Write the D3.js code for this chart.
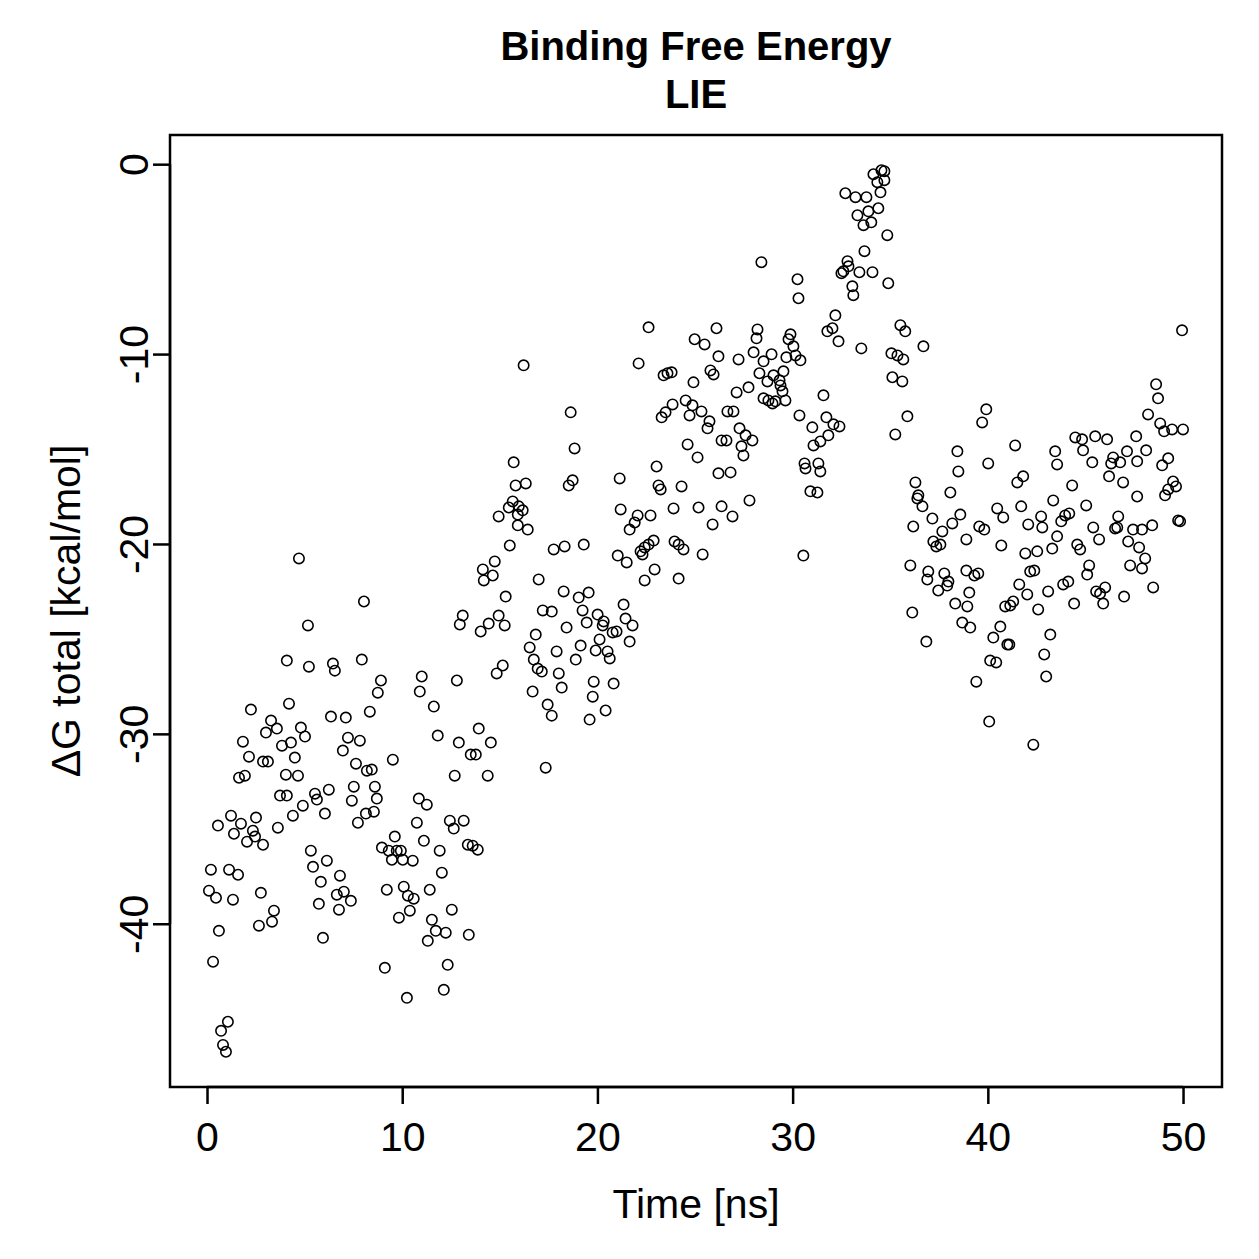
<!DOCTYPE html>
<html lang="en">
    <head>
        <meta charset="UTF-8" />
        <title>Binding Free Energy - LIE</title>
        <style>
            body {
                margin: 0;
                padding: 0;
                background-color: #ffffff;
            }
            svg text {
                font-family: 'Liberation Sans', Arial, Helvetica, sans-serif;
                fill: #000;
            }
        </style>
    </head>
    <body>
        <div id="chart"></div>
        <script src="https://d3js.org/d3.v7.min.js"></script>
        <script>
            const timeNs = [
                // 0 - 4.5 ns
                4.09, 4.20, 2.25, 3.28, 3.58, 3.02, 1.84, 3.84, 4.30, 2.15,
                2.87, 3.12, 4.50, 1.64, 1.94, 4.04, 3.74, 4.09, 1.23, 2.51,
                4.40, 0.56, 1.74, 1.38, 2.35, 2.05, 2.46, 2.87, 3.63, 0.20,
                1.13, 1.59, 0.10, 0.46, 1.33, 2.76, 3.43, 3.33, 2.66, 0.61,
                0.31, 1.07, 0.72, 0.82, 0.97, 4.66,
                // 4.5 - 9 ns
                4.71, 8.04, 5.17, 5.22, 6.45, 6.55, 7.93, 8.91, 8.75, 6.35,
                7.11, 8.34, 4.81, 5.02, 7.22, 7.83, 6.96, 7.63, 8.19, 8.44,
                6.24, 5.53, 5.63, 7.52, 8.60, 4.91, 6.04, 7.42, 8.70, 8.14,
                8.55, 7.73, 8.96, 5.32, 5.43, 6.14, 5.83, 6.81, 6.65, 7.01,
                7.37, 5.73, 6.76, 5.94,
                // 9 - 13 ns
                11.00, 10.90, 12.80, 11.62, 11.82, 12.90, 9.52, 12.69, 10.85, 11.26,
                10.75, 12.44, 12.64, 13.15, 9.62, 11.11, 9.31, 9.47, 9.72, 9.93,
                10.03, 10.54, 11.92, 12.03, 9.21, 10.08, 10.29, 10.59, 11.41, 10.39,
                9.83, 12.54, 11.52, 11.72, 12.23, 11.31, 9.11, 12.33, 12.13, 10.24,
                13.10, 12.95,
                // 13 - 18 ns
                16.22, 15.71, 15.81, 16.33, 15.66, 15.46, 14.94, 15.97, 16.17, 15.92,
                15.92, 16.43, 15.51, 17.76, 14.74, 14.13, 14.18, 14.64, 16.99, 15.30,
                17.20, 17.66, 14.94, 14.43, 14.02, 15.25, 15.15, 14.84, 16.84, 16.53,
                16.74, 16.94, 17.15, 16.68, 17.45, 17.66, 13.92, 14.54, 13.51, 13.77,
                14.38, 17.35, 13.36, 13.61, 13.87, 13.41,
                // 18 - 22 ns
                18.63, 18.83, 18.73, 18.53, 21.14, 21.19, 18.32, 19.30, 21.04, 21.50,
                18.27, 19.04, 19.55, 21.34, 19.24, 19.45, 20.01, 20.32, 20.27, 21.44,
                21.80, 18.42, 20.78, 20.98, 20.11, 21.65, 19.14, 17.91, 18.89, 19.91,
                20.52, 20.63, 18.02, 18.17, 19.81, 19.76, 20.83, 20.42, 19.60,
                // 22 - 26.5 ns
                22.62, 26.10, 24.98, 25.49, 26.20, 22.11, 23.39, 23.59, 23.80, 25.79,
                25.95, 24.92, 23.85, 24.52, 24.87, 24.72, 23.49, 23.29, 25.33, 25.74,
                25.64, 26.36, 24.62, 25.13, 23.03, 26.20, 23.13, 23.24, 24.31, 26.36,
                23.90, 25.18, 25.90, 22.72, 22.06, 21.91, 21.65, 22.88, 22.62, 22.42,
                22.21, 22.31, 23.95, 24.16, 24.41, 25.39, 22.93, 22.42, 24.16,
                // 26.5 - 31 ns
                28.40, 30.25, 30.30, 28.20, 28.15, 29.89, 29.79, 30.04, 27.23, 28.00,
                28.51, 28.92, 29.68, 30.15, 30.40, 28.30, 28.71, 29.02, 29.33, 29.53,
                29.38, 29.48, 27.74, 27.13, 28.51, 28.76, 28.97, 29.12, 29.63, 30.35,
                26.66, 26.97, 27.28, 26.61, 27.59, 27.94, 27.38, 27.48, 30.61, 30.66,
                26.82, 30.91, 27.79, 26.92, 30.55,
                // 31 - 35 ns
                34.14, 34.55, 34.70, 34.34, 34.70, 34.50, 32.70, 33.22, 33.78, 34.39,
                33.88, 33.32, 33.63, 34.03, 34.85, 33.68, 32.81, 32.86, 32.50, 32.60,
                33.42, 34.09, 33.06, 33.11, 34.90, 32.19, 32.04, 31.78, 32.35, 33.52,
                31.58, 31.73, 32.09, 32.40, 31.01, 31.83, 31.42, 31.07, 31.32, 31.42,
                31.27,
                // 35 - 39.5 ns
                35.52, 35.77, 36.70, 35.06, 35.37, 35.67, 35.11, 35.62, 35.88, 35.26,
                38.44, 38.49, 36.29, 36.44, 36.39, 36.65, 38.08, 37.16, 38.59, 36.18,
                38.18, 37.67, 39.56, 37.21, 37.57, 37.36, 38.90, 36.03, 36.95, 36.90,
                37.77, 38.90, 39.31, 37.98, 37.92, 37.46, 39.05, 38.33, 38.95, 36.13,
                38.69, 39.10, 36.85,
                // 39.5 - 44 ns
                39.92, 39.71, 41.40, 43.45, 43.55, 40.02, 41.51, 41.81, 43.35, 40.48,
                40.79, 41.71, 42.73, 42.79, 42.07, 43.76, 39.82, 43.55, 40.69, 41.92,
                42.53, 43.30, 39.51, 42.17, 42.38, 41.61, 42.02, 43.09, 40.89, 41.15,
                41.30, 42.58, 40.64, 40.28, 41.00, 41.10, 43.20, 42.89, 40.12, 40.43,
                42.99, 39.41, 40.07, 42.33,
                // 44 - 48.3 ns
                48.21, 44.48, 44.83, 45.50, 46.11, 47.60, 44.88, 45.35, 46.42, 46.32,
                46.78, 47.13, 47.65, 48.11, 46.21, 46.93, 44.32, 47.65, 45.04, 43.96,
                44.17, 46.68, 46.52, 46.63, 45.40, 45.70, 47.44, 47.90, 47.19, 47.75,
                44.58, 44.73, 48.06, 45.19, 45.09, 47.29, 47.90, 43.86, 44.12, 45.55,
                45.75, 46.01, 45.91, 44.42, 46.98,
                // 48.3 - 50 ns
                49.95, 48.62, 48.72, 48.83, 49.03, 49.44, 50.00, 49.24, 48.93, 49.49,
                49.24, 49.08, 49.64, 49.75, 49.85, 48.42, 48.47
            ];

            const deltaG = [
                // 0 - 4.5 ns
                -26.14, -28.41, -28.72, -29.30, -29.72, -29.93, -30.41, -30.62, -30.46, -31.20,
                -31.46, -31.46, -31.25, -32.31, -32.20, -32.15, -33.25, -33.25, -34.31, -34.41,
                -34.31, -34.83, -34.73, -35.26, -35.10, -35.68, -35.41, -35.84, -34.94, -37.15,
                -37.15, -37.42, -38.26, -38.63, -38.73, -38.37, -39.31, -39.89, -40.10, -40.37,
                -42.00, -45.16, -45.64, -46.38, -46.74, -32.20,
                // 4.5 - 9 ns
                -20.76, -23.03, -24.29, -26.46, -26.30, -26.67, -26.09, -27.19, -27.83, -29.09,
                -29.14, -28.83, -29.67, -30.14, -30.20, -30.36, -30.88, -31.57, -31.94, -31.88,
                -32.94, -33.15, -33.46, -32.78, -32.78, -33.78, -34.20, -33.52, -33.41, -34.20,
                -34.10, -34.68, -35.99, -36.15, -37.00, -36.68, -37.79, -37.47, -38.47, -38.31,
                -38.79, -38.95, -39.26, -40.74,
                // 9 - 13 ns
                -26.98, -27.77, -27.19, -28.56, -30.09, -30.46, -31.36, -32.20, -33.41, -33.73,
                -34.68, -34.57, -34.99, -34.57, -35.41, -35.63, -36.15, -36.63, -36.15, -36.15,
                -36.63, -36.68, -36.15, -37.31, -38.21, -38.05, -38.52, -38.68, -38.21, -39.31,
                -39.68, -39.26, -39.79, -40.37, -40.47, -40.90, -42.32, -42.16, -43.48, -43.90,
                -23.77, -24.24,
                // 13 - 18 ns
                -10.59, -15.70, -16.92, -16.81, -17.76, -18.08, -18.55, -18.02, -18.23, -18.45,
                -19.02, -19.24, -20.08, -20.29, -20.92, -21.34, -21.92, -21.66, -21.87, -22.77,
                -23.50, -23.56, -23.77, -24.19, -24.61, -24.29, -26.40, -26.82, -24.77, -25.45,
                -26.09, -26.56, -26.72, -27.77, -28.46, -29.04, -29.72, -30.46, -31.09, -31.09,
                -32.20, -31.78, -35.84, -35.89, -36.10, -40.58,
                // 18 - 22 ns
                -13.07, -14.97, -16.65, -16.92, -16.55, -18.18, -20.13, -20.03, -20.61, -20.97,
                -22.50, -22.82, -22.56, -23.19, -23.50, -24.14, -23.72, -24.08, -24.29, -23.93,
                -24.29, -24.40, -24.66, -24.61, -25.03, -25.14, -25.35, -25.66, -26.09, -25.61,
                -25.66, -26.03, -26.82, -27.56, -27.25, -28.04, -27.35, -28.77, -29.25,
                // 22 - 26.5 ns
                -8.59, -8.64, -9.22, -9.49, -10.12, -10.49, -11.12, -11.01, -10.96, -10.86,
                -11.07, -11.49, -12.65, -12.44, -12.70, -13.23, -13.07, -13.33, -13.02, -13.54,
                -13.91, -14.55, -14.76, -15.44, -15.92, -16.28, -16.92, -17.13, -16.97, -18.02,
                -18.13, -18.08, -18.97, -18.50, -18.50, -18.87, -19.24, -19.82, -20.03, -20.18,
                -20.39, -20.55, -19.87, -20.03, -20.29, -20.55, -21.34, -21.92, -21.82,
                // 26.5 - 31 ns
                -5.16, -6.06, -7.06, -8.70, -9.17, -8.96, -9.22, -9.59, -10.28, -9.91,
                -10.38, -10.01, -10.17, -10.07, -10.33, -11.01, -11.44, -11.12, -11.38, -10.91,
                -11.65, -11.96, -11.75, -12.02, -12.33, -12.44, -12.60, -12.49, -12.44, -13.23,
                -13.02, -13.02, -13.91, -14.55, -14.28, -14.55, -14.86, -15.34, -15.76, -16.02,
                -16.23, -17.23, -17.71, -18.55, -20.61,
                // 31 - 35 ns
                -0.53, -0.32, -0.37, -0.95, -0.84, -1.48, -1.53, -1.74, -1.74, -2.32,
                -2.48, -2.69, -3.21, -3.06, -3.74, -4.58, -5.11, -5.38, -5.74, -5.64,
                -5.69, -5.69, -6.43, -6.90, -6.27, -7.96, -8.64, -8.80, -9.33, -9.70,
                -12.17, -13.33, -13.70, -13.81, -13.86, -14.28, -14.60, -14.81, -15.76, -16.18,
                -17.29,
                // 35 - 39.5 ns
                -8.48, -8.80, -9.59, -9.96, -10.07, -10.28, -11.22, -11.44, -13.28, -14.23,
                -15.12, -16.18, -16.76, -17.44, -17.60, -18.02, -17.29, -18.66, -18.45, -19.08,
                -18.92, -19.34, -19.08, -19.87, -20.03, -20.13, -19.76, -21.13, -21.45, -21.87,
                -21.55, -21.40, -21.66, -21.98, -22.19, -22.45, -22.56, -23.14, -23.29, -23.61,
                -24.14, -24.40, -25.14,
                // 39.5 - 44 ns
                -12.91, -13.60, -14.81, -15.12, -15.81, -15.76, -16.76, -16.44, -17.71, -18.13,
                -18.60, -18.02, -18.55, -19.13, -18.97, -18.81, -19.24, -19.60, -20.08, -20.50,
                -20.39, -20.24, -21.55, -21.45, -21.40, -22.13, -22.66, -22.50, -23.29, -23.24,
                -23.03, -23.45, -24.35, -24.93, -25.30, -25.30, -24.77, -25.82, -26.14, -26.24,
                -26.98, -27.25, -29.35, -30.57,
                // 44 - 48.3 ns
                -13.18, -14.39, -14.49, -14.33, -14.49, -14.33, -15.07, -15.70, -15.44, -15.76,
                -15.70, -15.12, -15.65, -15.07, -16.44, -16.76, -16.92, -17.50, -17.97, -18.50,
                -18.39, -18.55, -19.18, -19.13, -19.13, -19.76, -19.24, -19.24, -19.87, -20.18,
                -20.03, -20.29, -20.76, -21.13, -21.61, -21.13, -21.29, -22.13, -21.98, -22.50,
                -22.61, -22.29, -23.14, -23.14, -22.77,
                // 48.3 - 50 ns
                -8.75, -11.59, -12.33, -13.65, -14.07, -13.97, -13.97, -15.49, -15.86, -16.71,
                -17.13, -17.44, -16.97, -18.76, -18.81, -19.02, -22.29
            ];

            const xTicks = [0, 10, 20, 30, 40, 50];
            const yTicks = [0, -10, -20, -30, -40];
            const titleLines = ['Binding Free Energy', 'LIE'];

            const width = 1259;
            const height = 1259;
            const box = { left: 170, right: 1222, top: 135, bottom: 1087 };

            const data = timeNs.map((t, i) => ({ time: t, dg: deltaG[i] }));

            // R style axis range: data extent plus 4% each side
            function padded(values) {
                const [lo, hi] = d3.extent(values);
                const pad = (hi - lo) * 0.04;
                return [lo - pad, hi + pad];
            }

            const x = d3.scaleLinear().domain(padded(timeNs)).range([box.left, box.right]);
            const y = d3.scaleLinear().domain(padded(deltaG)).range([box.bottom, box.top]);

            // plain hyphen for negatives, like R
            const plain = (d) => String(d);

            const svg = d3.select('#chart').append('svg').attr('width', width).attr('height', height);

            svg.append('rect').attr('width', width).attr('height', height).attr('fill', '#ffffff');

            // points
            svg.append('g')
                .selectAll('circle')
                .data(data)
                .join('circle')
                .attr('cx', (d) => x(d.time))
                .attr('cy', (d) => y(d.dg))
                .attr('r', 5.2)
                .attr('fill', 'none')
                .attr('stroke', '#000')
                .attr('stroke-width', 1.6);

            // x axis
            const xAxis = svg
                .append('g')
                .attr('transform', `translate(0, ${box.bottom})`)
                .call(d3.axisBottom(x).tickValues(xTicks).tickFormat(plain).tickSize(17).tickSizeOuter(0).tickPadding(18));

            // y axis
            const yAxis = svg
                .append('g')
                .attr('transform', `translate(${box.left}, 0)`)
                .call(d3.axisLeft(y).tickValues(yTicks).tickFormat(plain).tickSize(17).tickSizeOuter(0));

            [xAxis, yAxis].forEach((g) => {
                g.select('.domain').remove();
                g.selectAll('.tick line').attr('stroke', '#000').attr('stroke-width', 2.5);
                g.selectAll('.tick text').style('font-size', '41px').attr('fill', '#000');
            });

            // axis lines between first and last tick, as in base R
            xAxis.append('line')
                .attr('x1', x(xTicks[0]))
                .attr('x2', x(xTicks[xTicks.length - 1]))
                .attr('stroke', '#000')
                .attr('stroke-width', 2.5);
            yAxis.append('line')
                .attr('y1', y(yTicks[0]))
                .attr('y2', y(yTicks[yTicks.length - 1]))
                .attr('stroke', '#000')
                .attr('stroke-width', 2.5);

            // y tick labels run parallel to the axis
            yAxis.selectAll('.tick text')
                .attr('x', 0)
                .attr('y', -22)
                .attr('dy', 0)
                .attr('text-anchor', 'middle')
                .attr('transform', 'rotate(-90)');

            // plot box
            svg.append('rect')
                .attr('x', box.left)
                .attr('y', box.top)
                .attr('width', box.right - box.left)
                .attr('height', box.bottom - box.top)
                .attr('fill', 'none')
                .attr('stroke', '#000')
                .attr('stroke-width', 2.5);

            // titles
            const cx = (box.left + box.right) / 2;
            svg.selectAll('.title')
                .data(titleLines)
                .join('text')
                .attr('class', 'title')
                .attr('x', cx)
                .attr('y', (d, i) => 60 + i * 48)
                .attr('text-anchor', 'middle')
                .style('font-size', '40px')
                .style('font-weight', 'bold')
                .text((d) => d);

            svg.append('text')
                .attr('x', cx)
                .attr('y', 1218)
                .attr('text-anchor', 'middle')
                .style('font-size', '41px')
                .text('Time [ns]');

            svg.append('text')
                .attr('transform', `translate(80, ${(box.top + box.bottom) / 2}) rotate(-90)`)
                .attr('text-anchor', 'middle')
                .style('font-size', '41px')
                .text('ΔG total [kcal/mol]');
        </script>
    </body>
</html>
